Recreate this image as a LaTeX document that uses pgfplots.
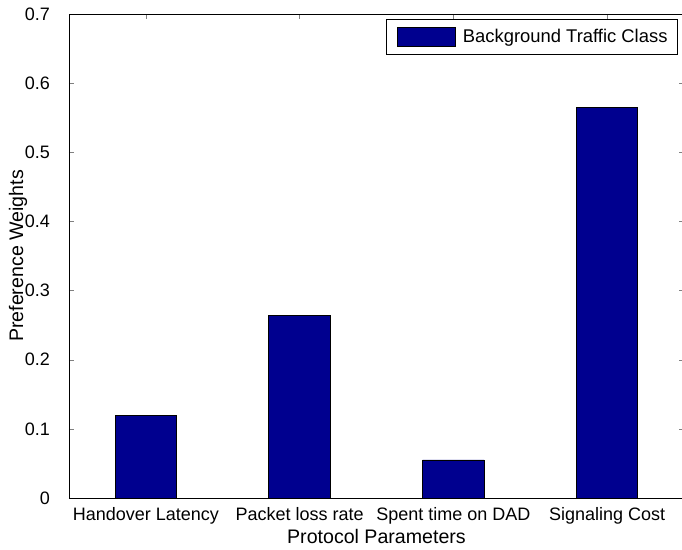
\documentclass[border=0pt]{standalone}
\usepackage{fontspec}
\setmainfont{Liberation Sans}
\usepackage{pgfplots}
\pgfplotsset{compat=1.18}
\definecolor{barblue}{RGB}{0,0,143}
\pgfplotsset{barlegend/.style={legend image code/.code={\draw[##1] (0pt,-4.75pt) rectangle (29pt,4.75pt);}}}
\begin{document}
\begin{tikzpicture}
\useasboundingbox (0,0) rectangle (341pt,275pt);
\begin{axis}[
  at={(34.5pt,26pt)}, anchor=south west,
  scale only axis, width=307.5pt, height=242pt,
  xmin=0.5, xmax=4.5, ymin=0, ymax=0.7,
  xtick={1,2,3,4},
  xticklabels={Handover Latency, Packet loss rate, Spent time on DAD, Signaling Cost},
  ytick={0,0.1,0.2,0.3,0.4,0.5,0.6,0.7},
  yticklabels={0,0.1,0.2,0.3,0.4,0.5,0.6,0.7},
  tick align=inside, major tick length=2.5pt,
  xtick pos=both, ytick pos=both,
  /pgf/number format/assume math mode=true,
  font=\fontsize{9}{10.5}\selectfont,
  ticklabel style={font=\fontsize{9}{10.5}\selectfont},
  yticklabel style={xshift=-6pt},
  xticklabel style={yshift=-1pt},
  xlabel={Protocol Parameters}, ylabel={Preference Weights},
  xlabel style={font=\fontsize{9.8}{11}\selectfont, at={(axis description cs:0.5,0)}, anchor=center, yshift=-19.5pt},
  ylabel style={font=\fontsize{9.8}{11}\selectfont, at={(axis description cs:-0.083,0.5)}, anchor=center},
  legend style={at={(1,1)}, anchor=north east, xshift=-3pt, yshift=-2.5pt,
    draw=black, line width=0.5pt, font=\fontsize{9.2}{10.5}\selectfont,
    inner xsep=5pt, inner ysep=3.75pt, nodes={inner sep=0pt}, column sep=3.5pt},
]
\addplot[ybar, bar width=0.4, fill=barblue, draw=black, barlegend]
  coordinates {(1,0.119) (2,0.264) (3,0.055) (4,0.565)};
\addlegendentry{Background Traffic Class}
\end{axis}
\end{tikzpicture}
\end{document}
